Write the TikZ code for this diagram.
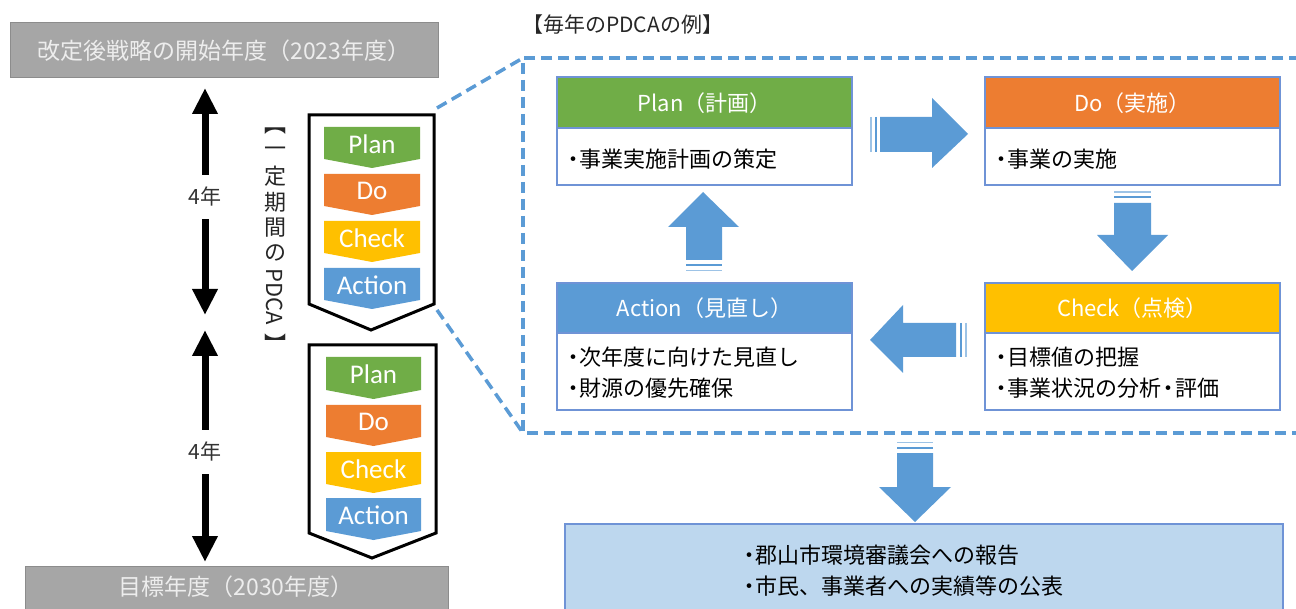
\documentclass[tikz,border=0pt]{standalone}
\usepackage{fontspec}
\setmainfont{Noto Sans CJK JP}
\newfontfamily\latinfont{Carlito}
\usetikzlibrary{arrows.meta}
\definecolor{pgreen}{HTML}{70AD47}
\definecolor{porange}{HTML}{ED7D31}
\definecolor{pyellow}{HTML}{FFC000}
\definecolor{pblue}{HTML}{5B9BD5}
\definecolor{boxline}{HTML}{6F93D6}
\definecolor{graybox}{HTML}{A6A6A6}
\definecolor{grayline}{HTML}{8C8C8C}
\definecolor{lightblue}{HTML}{BDD7EE}
\newcommand{\fs}[1]{\fontsize{#1}{#1}\selectfont}
\newcommand{\bul}{・\kern-5pt}
\newcommand{\pdcachev}[7]{%
  \fill[#6] (#1,#3) -- (#2,#3) -- (#2,#4) -- ({(#1+#2)/2},#5) -- (#1,#4) -- cycle;
  \coordinate (#7) at ({(#1+#2)/2},{(#3+#4)/2+1});}
\tikzset{
  chevtext/.style={text=white,font=\latinfont\fs{27},inner sep=0pt,anchor=center},
  graybar/.style={fill=graybox,draw=grayline,line width=1pt},
  graytext/.style={text=white!93!black,font=\fs{23},inner sep=0pt},
  dblarrow/.style={line width=7pt,{Triangle[width=24pt,length=26pt]}-{Triangle[width=24pt,length=26pt]}},
  yearlabel/.style={fill=white,font=\fs{21},inner xsep=2pt,inner ysep=12pt,text=black!80},
  outerchev/.style={draw=black,line width=3pt,fill=white,line join=miter},
  dashlink/.style={draw=pblue,line width=3.5pt,dash pattern=on 11pt off 6pt},
  bodytext/.style={font=\fs{22},align=left,anchor=west,inner sep=0pt,text=black,text depth=0pt},
  headtext/.style={text=white,font=\fs{22},inner sep=0pt},
  pdcahead/.style={draw=boxline,line width=1.2pt},
  pdcabody/.style={draw=boxline,line width=1.2pt,fill=white},
  vchar/.style={font=\fs{22},inner sep=0pt,text=black!85},
  blockarrow/.style={fill=pblue},
  stripe/.style={draw=pblue!60,line width=1.3pt},
  stripeb/.style={draw=pblue,line width=2pt}
}
\begin{document}
\begin{tikzpicture}[x=1pt,y=-1pt]
\useasboundingbox (0,0) rectangle (1296,609);
\clip (0,0) rectangle (1296,609);

% top and bottom gray bars
\draw[graybar] (10,23) rectangle (438,78);
\node[graytext] (start) at (224,50.5) {改定後戦略の開始年度（2023年度）};
\draw[graybar] (25,566) rectangle (448,609);
\node[graytext] (goal) at (236,587) {目標年度（2030年度）};

% double arrows
\coordinate (a1t) at (205,88);
\coordinate (a1b) at (205,315);
\coordinate (a2t) at (205,330);
\coordinate (a2b) at (205,562);
\draw[dblarrow] (a1t) -- (a1b) node[yearlabel,pos=0.48] (y1) {4年};
\draw[dblarrow] (a2t) -- (a2b) node[yearlabel,pos=0.525] (y2) {4年};

% vertical label
\node[vchar] (v0) at (275,131) {︻};
\node[vchar] (v1) at (275,152) {一};
\node[vchar] (v2) at (275,176) {定};
\node[vchar] (v3) at (275,202) {期};
\node[vchar] (v4) at (275,228) {間};
\node[vchar] (v5) at (275,253) {の};
\node[vchar,rotate=-90] (v6) at (275,297) {PDCA};
\node[vchar] (v7) at (275,343) {︼};

% outer chevrons
\draw[outerchev] (309,115) -- (434,115) -- (434,304) -- (371,330) -- (309,304) -- cycle;
\draw[outerchev] (309,345) -- (436,345) -- (436,533) -- (372,558) -- (309,533) -- cycle;

% inner chevrons set 1
\pdcachev{324}{420}{127}{159}{168}{pgreen}{c1p}
\pdcachev{324}{420}{174}{206}{215}{porange}{c1d}
\pdcachev{324}{420}{221}{253}{262}{pyellow}{c1c}
\pdcachev{324}{420}{268}{300}{309}{pblue}{c1a}
\node[chevtext] (t1p) at (c1p) {Plan};
\node[chevtext] (t1d) at (c1d) {Do};
\node[chevtext] (t1c) at (c1c) {Check};
\node[chevtext] (t1a) at (c1a) {Action};

% inner chevrons set 2
\pdcachev{326}{421}{357}{390}{399}{pgreen}{c2p}
\pdcachev{326}{421}{405}{437}{446}{porange}{c2d}
\pdcachev{326}{421}{452}{484}{493}{pyellow}{c2c}
\pdcachev{326}{421}{498}{531}{540}{pblue}{c2a}
\node[chevtext] (t2p) at (c2p) {Plan};
\node[chevtext] (t2d) at (c2d) {Do};
\node[chevtext] (t2c) at (c2c) {Check};
\node[chevtext] (t2a) at (c2a) {Action};

% title
\node[font=\fs{21},anchor=west,inner sep=0pt,text=black!85] (title) at (522,25) {【毎年のPDCAの例】};

% dashed zoom frame
\coordinate (d1) at (437,108);
\coordinate (d2) at (523,58);
\coordinate (d3) at (437,310);
\coordinate (d4) at (523,433);
\coordinate (d5) at (1300,58);
\coordinate (d6) at (1300,433);
\draw[dashlink] (d5) -- (d2) -- (d4) -- (d6);
\draw[dashlink] (d1) -- (d2);
\draw[dashlink] (d3) -- (d4);

% PDCA boxes
\draw[pdcahead,fill=pgreen] (557,77) rectangle (852,128);
\node[headtext] (planh) at (704.5,103) {Plan（計画）};
\draw[pdcabody] (557,128) rectangle (852,185);
\node[bodytext] (planb) at (562,158) {\bul 事業実施計画の策定};

\draw[pdcahead,fill=porange] (985,77) rectangle (1280,128);
\node[headtext] (doh) at (1132.5,103) {Do（実施）};
\draw[pdcabody] (985,128) rectangle (1280,185);
\node[bodytext] (dob) at (990,158) {\bul 事業の実施};

\draw[pdcahead,fill=pyellow] (985,283) rectangle (1280,333);
\node[headtext] (checkh) at (1132.5,308) {Check（点検）};
\draw[pdcabody] (985,333) rectangle (1280,410);
\node[bodytext] (checkb1) at (990,356) {\bul 目標値の把握};
\node[bodytext] (checkb2) at (990,387) {\bul 事業状況の分析\kern-4pt・\kern-4pt評価};

\draw[pdcahead,fill=pblue] (557,283) rectangle (852,333);
\node[headtext] (acth) at (704.5,308) {Action（見直し）};
\draw[pdcabody] (557,333) rectangle (852,410);
\node[bodytext] (actb1) at (562,356) {\bul 次年度に向けた見直し};
\node[bodytext] (actb2) at (562,387) {\bul 財源の優先確保};

% block arrows
% right (Plan -> Do)
\fill[blockarrow] (880,117) -- (932,117) -- (932,98) -- (968,134) -- (932,168) -- (932,152) -- (880,152) -- cycle;
\draw[stripe] (871,117) -- (871,152);
\draw[stripeb] (876,117) -- (876,152);
% down (Do -> Check)
\fill[blockarrow] (1114,203) -- (1151,203) -- (1151,235) -- (1168,235) -- (1132,271) -- (1097,235) -- (1114,235) -- cycle;
\draw[stripe] (1114,192) -- (1151,192);
\draw[stripeb] (1114,197.5) -- (1151,197.5);
% left (Check -> Action)
\fill[blockarrow] (956,323) -- (903,323) -- (903,305) -- (870,340) -- (903,373) -- (903,357) -- (956,357) -- cycle;
\draw[stripeb] (961,323) -- (961,357);
\draw[stripe] (966,323) -- (966,357);
% up (Action -> Plan)
\fill[blockarrow] (686,260) -- (722,260) -- (722,227) -- (739,227) -- (703,192) -- (668,227) -- (686,227) -- cycle;
\draw[stripeb] (686,265) -- (722,265);
\draw[stripe] (686,270.5) -- (722,270.5);
% down to report
\fill[blockarrow] (897,453) -- (933,453) -- (933,487) -- (951,487) -- (915,522) -- (879,487) -- (897,487) -- cycle;
\draw[stripe] (897,442.5) -- (933,442.5);
\draw[stripeb] (897,448) -- (933,448);

% report box
\draw[draw=boxline,line width=1.5pt,fill=lightblue] (565,524) rectangle (1283,612);
\node[bodytext] (rep1) at (738,554) {\bul 郡山市環境審議会への報告};
\node[bodytext] (rep2) at (738,585) {\bul 市民、事業者への実績等の公表};
\end{tikzpicture}
\end{document}
